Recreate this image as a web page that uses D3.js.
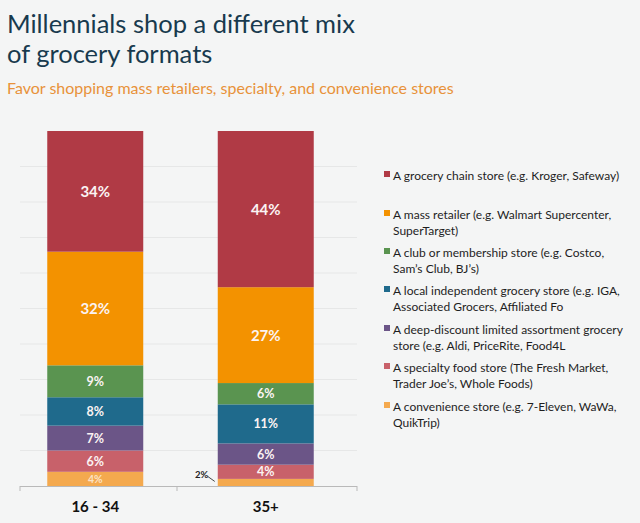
<!DOCTYPE html>
<html><head><meta charset="utf-8">
<script src="https://cdn.jsdelivr.net/npm/d3@7"></script>
<style>
html,body{margin:0;padding:0;background:#f4f5f5;}
svg{display:block;}
</style></head>
<body>
<svg id="c" width="640" height="523"></svg>
<script>
const groups = ["16 - 34", "35+"];
const seriesNames = [
  "A grocery chain store (e.g. Kroger, Safeway)",
  "A mass retailer (e.g. Walmart Supercenter, SuperTarget)",
  "A club or membership store (e.g. Costco, Sam\u2019s Club, BJ\u2019s)",
  "A local independent grocery store (e.g. IGA, Associated Grocers, Affiliated Fo",
  "A deep-discount limited assortment grocery store (e.g. Aldi, PriceRite, Food4L",
  "A specialty food store (The Fresh Market, Trader Joe\u2019s, Whole Foods)",
  "A convenience store (e.g. 7-Eleven, WaWa, QuikTrip)"
];
const legendLines = [
  ["A grocery chain store (e.g. Kroger, Safeway)"],
  ["A mass retailer (e.g. Walmart Supercenter,", "SuperTarget)"],
  ["A club or membership store (e.g. Costco,", "Sam\u2019s Club, BJ\u2019s)"],
  ["A local independent grocery store (e.g. IGA,", "Associated Grocers, Affiliated Fo"],
  ["A deep-discount limited assortment grocery", "store (e.g. Aldi, PriceRite, Food4L"],
  ["A specialty food store (The Fresh Market,", "Trader Joe\u2019s, Whole Foods)"],
  ["A convenience store (e.g. 7-Eleven, WaWa,", "QuikTrip)"]
];
const values1634 = [34, 32, 9, 8, 7, 6, 4];
const values35 = [44, 27, 6, 11, 6, 4, 2];
const colors = ["#b03a45", "#f39200", "#5a9450", "#1f6a8c", "#6b5587", "#c8616a", "#f4a94e"];
const yTicks = [0,10,20,30,40,50,60,70,80,90,100];

const svg = d3.select("#c");
const W = 640, H = 523;
svg.append("rect").attr("width", W).attr("height", H).attr("fill", "#f4f5f5");

// Title
const title = svg.append("g").attr("font-family", "Lato, 'Open Sans', sans-serif");
title.append("text").attr("x", 7).attr("y", 33).attr("font-size", 25.5).attr("fill", "#183a4e")
  .text("Millennials shop a different mix");
title.append("text").attr("x", 7).attr("y", 63).attr("font-size", 25.5).attr("fill", "#183a4e")
  .text("of grocery formats");
title.append("text").attr("x", 7).attr("y", 94).attr("font-size", 16).attr("fill", "#e8923a")
  .text("Favor shopping mass retailers, specialty, and convenience stores");

// Scales
const x = d3.scaleBand().domain(groups).range([10, 351]).paddingInner(0.437).paddingOuter(0.2185);
const y = d3.scaleLinear().domain([0, 100]).range([486, 131]);

// gridlines
svg.append("g").selectAll("line").data(yTicks.slice(1, 10)).join("line")
  .attr("x1", 20).attr("x2", 357)
  .attr("y1", d => y(d)).attr("y2", d => y(d))
  .attr("stroke", "#e6e7e7").attr("stroke-width", 1);

// stack
const table = groups.map((g, gi) => {
  const row = {group: g};
  seriesNames.forEach((s, si) => row[s] = (gi === 0 ? values1634 : values35)[si]);
  return row;
});
const order = seriesNames.slice().reverse();
const stacked = d3.stack().keys(order)(table);

const segG = svg.append("g");
stacked.forEach(layer => {
  const si = seriesNames.indexOf(layer.key);
  segG.append("g").selectAll("rect").data(layer).join("rect")
    .attr("x", d => x(d.data.group))
    .attr("width", x.bandwidth())
    .attr("y", d => y(d[1]))
    .attr("height", d => y(d[0]) - y(d[1]))
    .attr("fill", colors[si]);
});

// labels
const labG = svg.append("g").attr("font-family", "Lato, 'Open Sans', sans-serif")
  .attr("font-weight", "bold").attr("text-anchor", "middle");
stacked.forEach(layer => {
  const si = seriesNames.indexOf(layer.key);
  layer.forEach(d => {
    const v = d[1] - d[0];
    const cx = x(d.data.group) + x.bandwidth() / 2;
    if (v >= 4) {
      const fs = v >= 20 ? 15 : (si === 6 ? 10.5 : 12.5);
      labG.append("text").attr("x", cx).attr("y", (y(d[0]) + y(d[1])) / 2)
        .attr("dy", "0.36em").attr("font-size", fs)
        .attr("fill", si === 6 ? "#fbe3c6" : "#fbf3f3").text(v + "%");
    } else {
      const bx = x(d.data.group);
      const my = (y(d[0]) + y(d[1])) / 2;
      labG.append("text").attr("x", bx - 16).attr("y", my - 4).attr("font-size", 9.5)
        .attr("fill", "#222").text(v + "%");
      svg.append("line").attr("x1", bx - 10).attr("y1", my - 6).attr("x2", bx - 3).attr("y2", my - 1)
        .attr("stroke", "#333").attr("stroke-width", 0.9);
    }
  });
});

// axis
const ax = svg.append("g");
const bounds = [20, 177, 357];
ax.append("line").attr("x1", 20).attr("x2", 357).attr("y1", 486.5).attr("y2", 486.5)
  .attr("stroke", "#b9b9b9").attr("stroke-width", 1);
ax.selectAll("line.t").data(bounds).join("line").attr("class", "t")
  .attr("x1", d => d).attr("x2", d => d).attr("y1", 486).attr("y2", 491)
  .attr("stroke", "#b9b9b9");
ax.selectAll("text").data(groups).join("text")
  .attr("x", d => x(d) + x.bandwidth() / 2).attr("y", 512)
  .attr("text-anchor", "middle").attr("font-family", "Lato, 'Open Sans', sans-serif")
  .attr("font-size", 15).attr("font-weight", "bold").attr("fill", "#111").text(d => d);

// legend
const legY = [176, 215, 253, 291, 330, 368, 407];
const lg = svg.append("g").attr("font-family", "Lato, 'Open Sans', sans-serif").attr("font-size", 12).attr("fill", "#1e1e1e");
legendLines.forEach((lines, i) => {
  lg.append("rect").attr("x", 384).attr("y", legY[i] - 5).attr("width", 6).attr("height", 6).attr("fill", colors[i]);
  lines.forEach((t, j) => {
    lg.append("text").attr("x", 393).attr("y", legY[i] + j * 15.5).attr("dy", "0.35em").text(t);
  });
});
</script>
</body></html>
